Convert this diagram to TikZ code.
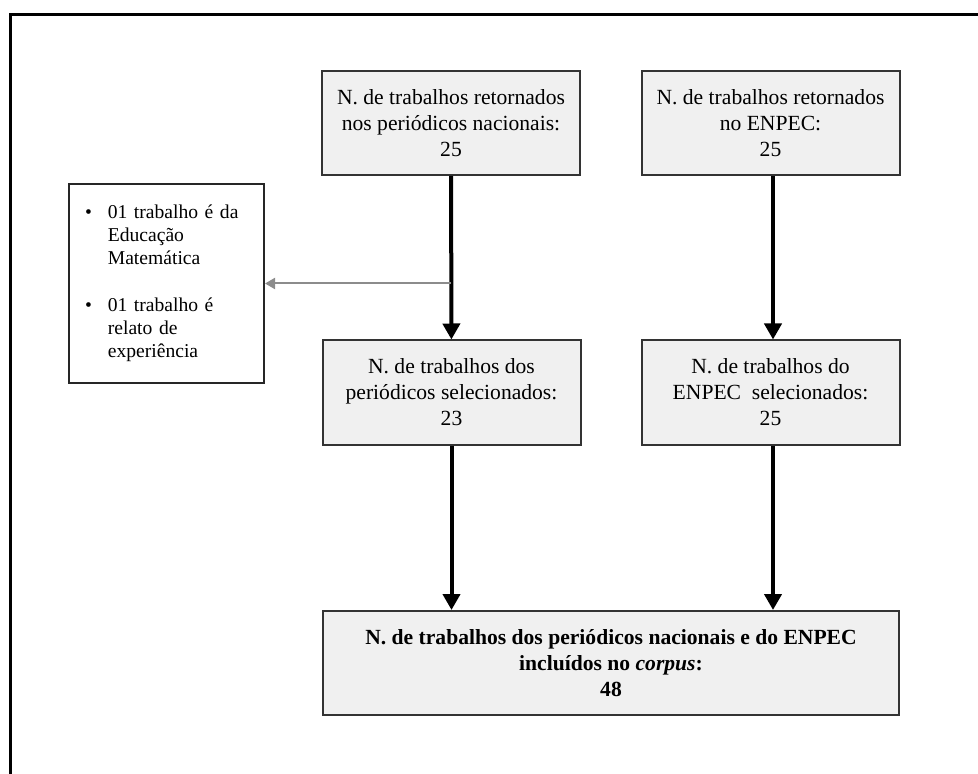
\documentclass[tikz,border=0pt]{standalone}
\usepackage{fontspec}
\setmainfont{Liberation Serif}
\usetikzlibrary{arrows.meta}
\definecolor{caixa}{gray}{0.94}
\definecolor{setacinza}{gray}{0.55}
\tikzset{
  etapa/.style={draw=black!80, line width=1pt, fill=caixa, align=center,
    minimum width=129pt, minimum height=52pt, inner sep=0pt,
    font=\fontsize{10.8}{13}\selectfont},
  seta/.style={line width=2pt, -{Triangle[length=8pt,width=8.5pt]}},
  setaexc/.style={setacinza, line width=1pt, -{Triangle[length=5pt,width=5.5pt]}}
}
\begin{document}
\begin{tikzpicture}[x=0.5pt,y=-0.5pt]
  \useasboundingbox (0,0) rectangle (978,774);
  % Moldura
  \draw[line width=1.5pt] (10,774) -- (10,15) -- (978,15);

  % Caixas
  \node[etapa] (retper) at (451,123) {N. de trabalhos retornados\\nos periódicos nacionais:\\25};
  \node[etapa] (retenp) at (770.5,123) {N. de trabalhos retornados\\no ENPEC:\\25};
  \node[etapa] (selper) at (451.5,392.5) {N. de trabalhos dos\\periódicos selecionados:\\23};
  \node[etapa] (selenp) at (770.5,392.5) {N. de trabalhos do\\ENPEC~ selecionados:\\25};
  \node[etapa, minimum width=288pt, font=\fontsize{10.8}{13}\selectfont\bfseries] (corpus) at (611,663)
    {N. de trabalhos dos periódicos nacionais e do ENPEC\\incluídos no \textit{corpus}:\\48};

  % Trabalhos excluidos
  \node[draw=black!85, line width=1pt, fill=white, align=left, text width=81.5pt,
    inner xsep=8pt, inner ysep=0pt, minimum height=99.5pt,
    font=\fontsize{9.8}{11.5}\selectfont] (excl) at (166.5,283.5)
    {\begin{tabular}{@{}l@{\hspace{8pt}}l@{}}
      \textbullet & 01 trabalho é da\\
                  & Educação\\
                  & Matemática\\[12pt]
      \textbullet & 01 trabalho é\\
                  & relato de\\
                  & experiência
    \end{tabular}};

  % Setas
  \draw[seta] (retper) -- (selper);
  \draw[seta] (retenp.south -| 773,0) -- (selenp.north -| 773,0);
  \draw[seta] (selper) -- (selper.south |- corpus.north);
  \draw[seta] (selenp.south -| 773,0) -- (corpus.north -| 773,0);
  \coordinate (desvio) at (451,283.5);
  \draw[setaexc] (desvio) -- (excl.east);
\end{tikzpicture}
\end{document}
